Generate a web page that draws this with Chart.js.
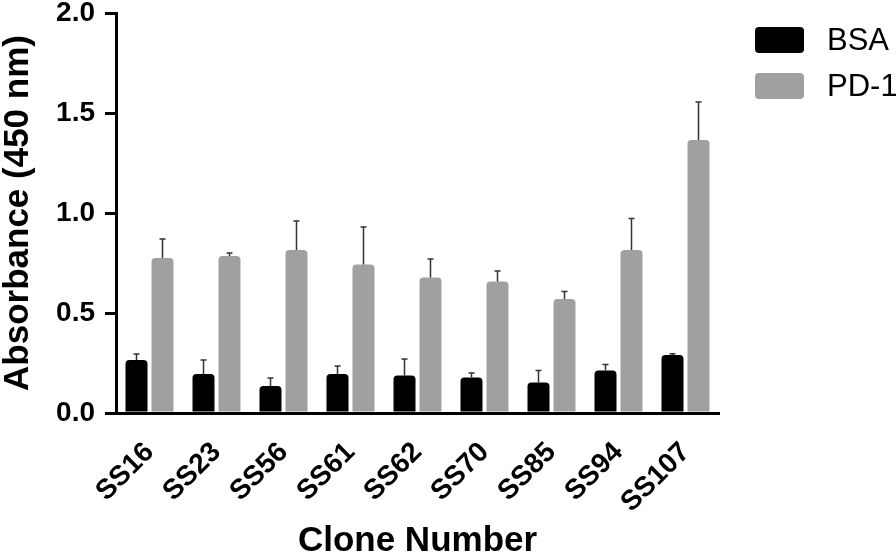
<!DOCTYPE html>
<html>
<head>
<meta charset="utf-8">
<script src="https://cdn.jsdelivr.net/npm/chart.js@4"></script>
<style>
	html, body { margin: 0; padding: 0; background: #fff; }
	#wrap { width: 896px; height: 557px; }
</style>
</head>
<body>
<div id="wrap"><canvas id="myChart" width="896" height="557"></canvas></div>
<script>
const clones = ['SS16', 'SS23', 'SS56', 'SS61', 'SS62', 'SS70', 'SS85', 'SS94', 'SS107']

const bsaValues = [0.265, 0.195, 0.135, 0.195, 0.188, 0.178, 0.152, 0.212, 0.29]
const bsaErrors = [0.03, 0.07, 0.04, 0.04, 0.082, 0.022, 0.061, 0.031, 0.006]

const pd1Values = [0.775, 0.785, 0.815, 0.743, 0.677, 0.657, 0.57, 0.815, 1.365]
const pd1Errors = [0.095, 0.015, 0.145, 0.187, 0.093, 0.053, 0.037, 0.158, 0.19]

const FONT = "'Liberation Sans', Arial, Helvetica, sans-serif"

// upper error bars only, like the original plot
const errorBars = {
	id: 'errorBars',
	afterDatasetsDraw(chart) {
		const ctx = chart.ctx
		const yScale = chart.scales.y
		ctx.save()
		ctx.strokeStyle = '#333'
		ctx.lineWidth = 1.5
		chart.data.datasets.forEach((ds, i) => {
			const meta = chart.getDatasetMeta(i)
			if (meta.hidden) return
			meta.data.forEach((bar, j) => {
				const top = yScale.getPixelForValue(ds.data[j] + ds.errors[j])
				ctx.beginPath()
				ctx.moveTo(bar.x, bar.y)
				ctx.lineTo(bar.x, top)
				ctx.moveTo(bar.x - 3, top)
				ctx.lineTo(bar.x + 3, top)
				ctx.stroke()
			})
		})
		ctx.restore()
	}
}

// legend sits to the right of the plot, drawn here so the plot keeps its width
const sideLegend = {
	id: 'sideLegend',
	afterDraw(chart) {
		const ctx = chart.ctx
		const x = chart.chartArea.right + 36
		ctx.save()
		ctx.font = '31px ' + FONT
		ctx.textBaseline = 'middle'
		ctx.textAlign = 'left'
		chart.data.datasets.forEach((ds, i) => {
			const y = 27 + i * 46
			ctx.fillStyle = ds.backgroundColor
			ctx.beginPath()
			ctx.roundRect(x, y, 49, 26, 4)
			ctx.fill()
			ctx.fillStyle = '#000'
			ctx.fillText(ds.label, x + 72, y + 14)
		})
		ctx.restore()
	}
}

const chart = new Chart(document.getElementById('myChart'), {
	type: 'bar',
	data: {
		labels: clones,
		datasets: [
			{
				label: 'BSA',
				data: bsaValues,
				errors: bsaErrors,
				backgroundColor: '#000000',
				borderRadius: 4,
				categoryPercentage: 0.776,
				barPercentage: 0.846
			},
			{
				label: 'PD-1',
				data: pd1Values,
				errors: pd1Errors,
				backgroundColor: '#a0a0a0',
				borderRadius: 4,
				categoryPercentage: 0.776,
				barPercentage: 0.846
			}
		]
	},
	plugins: [errorBars, sideLegend],
	options: {
		responsive: false,
		animation: false,
		layout: {
			padding: { top: 13, right: 177, bottom: 0, left: 0 }
		},
		plugins: {
			legend: { display: false },
			tooltip: { enabled: false }
		},
		scales: {
			x: {
				grid: { display: false, drawTicks: false },
				border: { display: true, color: '#000', width: 3 },
				ticks: {
					color: '#000',
					font: { family: FONT, size: 28, weight: 'bold' },
					minRotation: 45,
					maxRotation: 45,
					padding: 23
				},
				title: {
					display: true,
					text: 'Clone Number',
					color: '#000',
					font: { family: FONT, size: 35, weight: 'bold', lineHeight: 0.9 },
					padding: 0
				},
				afterFit: s => { s.height = 144 }
			},
			y: {
				min: 0,
				max: 2,
				grid: {
					drawOnChartArea: false,
					drawTicks: true,
					tickLength: 11,
					color: '#000',
					lineWidth: 3
				},
				border: { display: true, color: '#000', width: 3 },
				ticks: {
					stepSize: 0.5,
					color: '#000',
					padding: 10,
					font: { family: FONT, size: 28, weight: 'bold', lineHeight: 0.9 },
					callback: v => v.toFixed(1)
				},
				title: {
					display: true,
					text: 'Absorbance (450 nm)',
					color: '#000',
					font: { family: FONT, size: 35, weight: 'bold', lineHeight: 0.9 },
					padding: { top: 3 }
				},
				afterFit: s => {
					s.width = 116
					s.paddingTop = 0
					s.paddingBottom = 0
				}
			}
		}
	}
})
</script>
</body>
</html>
